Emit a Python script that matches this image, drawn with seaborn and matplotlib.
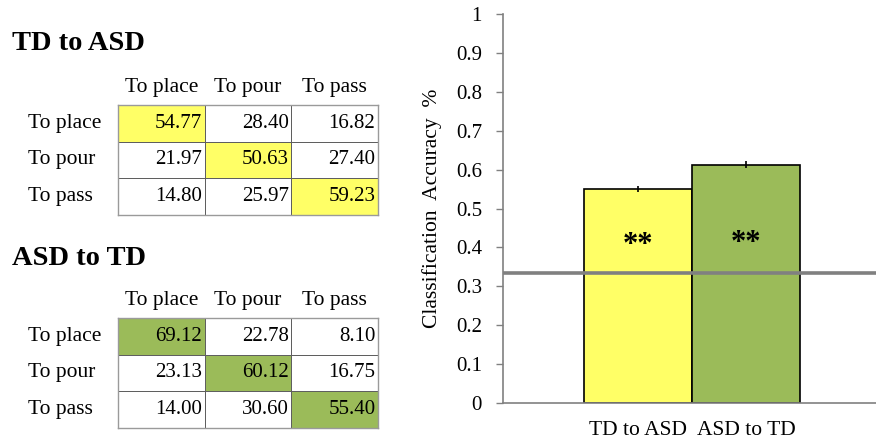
import numpy as np
import pandas as pd
import seaborn as sns
import matplotlib.pyplot as plt

# confusion matrices (%), rows = true class, cols = predicted class
classes = ["To place", "To pour", "To pass"]
td_to_asd = [[54.77, 28.40, 16.82],
             [21.97, 50.63, 27.40],
             [14.80, 25.97, 59.23]]
asd_to_td = [[69.12, 22.78, 8.10],
             [23.13, 60.12, 16.75],
             [14.00, 30.60, 55.40]]

# bar chart data
conditions = ["TD to ASD", "ASD to TD"]
accuracy = [0.550, 0.613]
acc_err = [0.007, 0.009]
chance_level = 0.335
star_y = [0.404, 0.410]
yticks = [0, 0.1, 0.2, 0.3, 0.4, 0.5, 0.6, 0.7, 0.8, 0.9, 1]
ytick_labels = ["0", "0.1", "0.2", "0.3", "0.4", "0.5", "0.6", "0.7", "0.8", "0.9", "1"]

yellow = "#FFFF66"
green = "#9BBB59"

sns.set_style("white")
plt.rcParams["font.family"] = ["Liberation Serif", "DejaVu Serif"]
# plain black text like the original figure
plt.rcParams.update({"text.color": "black", "axes.labelcolor": "black",
                     "xtick.color": "black", "ytick.color": "black"})

fig = plt.figure(figsize=(8.76, 4.40), dpi=100)


def draw_matrix(ax, values, color):
    df = pd.DataFrame(values, index=classes, columns=classes)
    diag = pd.DataFrame(np.eye(3), index=classes, columns=classes)
    sns.heatmap(diag, ax=ax, cmap=sns.blend_palette(["white", color], as_cmap=True),
                vmin=0, vmax=1, cbar=False, annot=df, fmt=".2f",
                annot_kws={"fontsize": 15, "color": "black"},
                linewidths=0.6, linecolor="#5f5f5f")
    # numbers right-aligned inside the cells, like a spreadsheet
    for t in ax.texts:
        x, y = t.get_position()
        t.set_position((x + 0.47, y))
        t.set_horizontalalignment("right")
    ax.xaxis.tick_top()
    ax.tick_params(axis="x", length=0, pad=6, labelsize=15.5)
    ax.tick_params(axis="y", length=0, pad=65, labelsize=15.5)
    ax.set_xticklabels(classes, rotation=0)
    ax.set_yticklabels(classes, rotation=0, ha="left")
    ax.set_xlabel("")
    ax.set_ylabel("")
    for s in ax.spines.values():
        s.set_visible(True)
        s.set_color("#9a9a9a")
        s.set_linewidth(1)


ax1 = fig.add_axes([0.1347, 0.5114, 0.2968, 0.25])
draw_matrix(ax1, td_to_asd, yellow)
ax2 = fig.add_axes([0.1347, 0.0273, 0.2968, 0.25])
draw_matrix(ax2, asd_to_td, green)

fig.text(0.014, 0.900, "TD to ASD", fontsize=20.5, fontweight="bold", va="center")
fig.text(0.014, 0.413, "ASD to TD", fontsize=20.5, fontweight="bold", va="center")

# bar chart
ax3 = fig.add_axes([0.574, 0.084, 0.426, 0.884])
bar_df = pd.DataFrame({"condition": conditions, "accuracy": accuracy})
sns.barplot(data=bar_df, x="condition", y="accuracy", hue="condition",
            palette=[yellow, green], saturation=1, width=1.0, edgecolor="black",
            linewidth=1.2, legend=False, ax=ax3)
ax3.errorbar(x=[0, 1], y=accuracy, yerr=acc_err, fmt="none", ecolor="black",
             elinewidth=1.2, capsize=0, zorder=5)
ax3.axhline(chance_level, color="#808080", lw=2.6, zorder=6)
for i, y in enumerate(star_y):
    ax3.text(i, y, "**", ha="center", va="center", fontsize=22, fontweight="bold")

ax3.set_xlim(-1.25, 2.2)
ax3.set_ylim(0, 1)
ax3.set_yticks(yticks)
ax3.set_yticklabels(ytick_labels)
ax3.set_xlabel("")
ax3.set_ylabel("Classification  Accuracy  %", fontsize=15.5, labelpad=10)
ax3.tick_params(axis="y", direction="out", length=5, width=1, color="#808080",
                labelcolor="black", labelsize=15, pad=10, left=True)
ax3.tick_params(axis="x", length=0, labelsize=15.5, pad=13)
sns.despine(ax=ax3, top=True, right=True)
for s in ["left", "bottom"]:
    ax3.spines[s].set_color("#808080")
    ax3.spines[s].set_linewidth(1.2)

fig.savefig("out.png", dpi=100)
